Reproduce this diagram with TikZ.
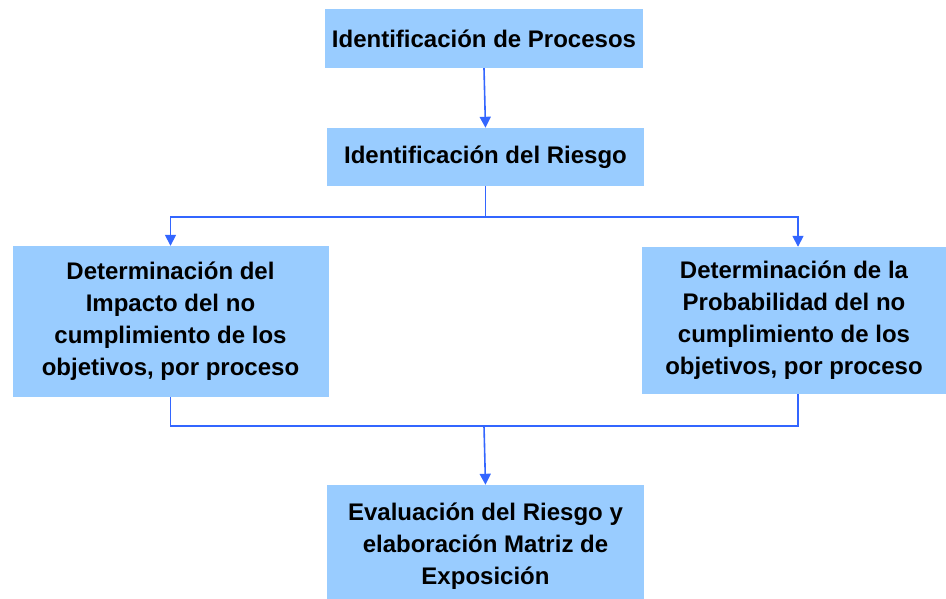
\documentclass[tikz,border=0pt]{standalone}
\usepackage{fontspec}
\setmainfont{Liberation Sans}
\usetikzlibrary{arrows.meta}
\definecolor{boxblue}{HTML}{99CCFF}
\definecolor{lineblue}{HTML}{3366FF}
\tikzset{
  procbox/.style={rectangle, fill=boxblue, draw=none, inner sep=0pt, align=center,
    font=\fontsize{24}{32}\selectfont\bfseries},
  conn/.style={draw=lineblue, line width=1.6pt},
  arr/.style={conn, -{Triangle[width=11pt,length=11pt]}}
}
\begin{document}
\begin{tikzpicture}[x=1pt,y=-1pt]
\useasboundingbox (0,0) rectangle (946,599);
\node[procbox, minimum width=318pt, minimum height=59pt] (b1) at (484,38.5) {Identificación de Procesos};
\node[procbox, minimum width=317pt, minimum height=58pt] (b2) at (485.5,157) {Identificación del Riesgo};
\node[procbox, minimum width=316pt, minimum height=151pt] (bl) at (170.5,321.5)
  {Determinación del\\Impacto del no\\cumplimiento de los\\objetivos, por proceso};
\node[procbox, minimum width=304pt, minimum height=147pt] (br) at (794,320.5)
  {Determinación de la\\Probabilidad del no\\cumplimiento de los\\objetivos, por proceso};
\node[procbox, minimum width=317pt, minimum height=122pt] (b5) at (485.5,546)
  {Evaluación del Riesgo y\\elaboración Matriz de\\Exposición};
\coordinate (split) at (0,217);
\coordinate (merge) at (0,426);
\coordinate (rtop) at ([xshift=4pt]br.north);
\coordinate (rbot) at ([xshift=4pt]br.south);
\draw[arr] (b1.south) -- (b2.north);
\draw[conn] (b2.south) -- (b2.south |- split);
\draw[arr] (b2.south |- split) -| (bl.north);
\draw[arr] (b2.south |- split) -| (rtop);
\draw[conn] (bl.south) |- (rbot |- merge) -- (rbot);
\draw[arr] ([xshift=-1.5pt]b5.north |- merge) -- (b5.north);
\end{tikzpicture}
\end{document}
